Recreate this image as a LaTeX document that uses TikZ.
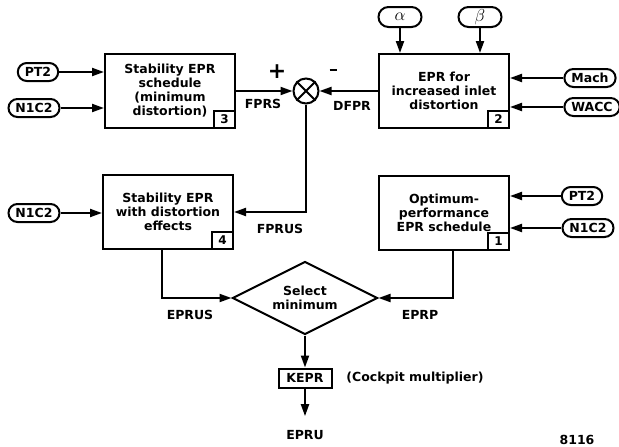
\documentclass[tikz,border=0pt]{standalone}
\usepackage{fontspec}
\setmainfont{DejaVu Sans}
\usepackage{tikz}
\usetikzlibrary{arrows.meta,calc,positioning,shapes.geometric}
\tikzset{
  every node/.append style={font=\bfseries\fontsize{12.5}{14}\selectfont},
  block/.style={draw,line width=2pt,minimum width=130pt,minimum height=74pt,align=center,inner sep=2pt},
  oval/.style={draw,line width=2pt,rounded corners=9pt,minimum height=18pt,inner xsep=7pt,inner ysep=0pt},
  angleoval/.style={oval,minimum width=43pt,minimum height=20pt,rounded corners=10pt,
    font=\fontsize{17}{17}\selectfont},
  numbox/.style={draw,line width=2pt,anchor=south east,minimum width=21pt,minimum height=17pt,inner sep=0pt,
    font=\bfseries\fontsize{12}{12}\selectfont},
  sig/.style={line width=2pt,-{Triangle[length=12pt,width=8pt]}},
  lbl/.style={inner sep=0pt}
}

\begin{document}
\begin{tikzpicture}[x=1pt,y=-1pt]
  \useasboundingbox (0,0) rectangle (619,447);
  % blocks
  \node[block] (stab) at (170,91) {Stability EPR\\schedule\\(minimum\\distortion)};
  \node[numbox] (stabN) at (stab.south east) {3};
  \node[block] (dist) at (444,91) {EPR for\\increased inlet\\distortion};
  \node[numbox] (distN) at (dist.south east) {2};
  \node[block] (stabd) at (168,212) {Stability EPR\\with distortion\\effects};
  \node[numbox] (stabdN) at (stabd.south east) {4};
  \node[block] (optim) at (444,213) {Optimum-\\performance\\EPR schedule};
  \node[numbox] (optimN) at (optim.south east) {1};
  \node[draw,diamond,aspect=2,line width=2pt,minimum width=145pt,minimum height=73pt,
    inner sep=0pt,align=center] (sel) at (305,298) {Select\\minimum};
  \node[draw,line width=2pt,minimum width=53pt,minimum height=19pt,inner sep=0pt] (kepr) at (305,378) {KEPR};
  % summing junction
  \node[circle,draw,line width=2pt,minimum size=25pt,inner sep=0pt] (sum) at (306,91) {};
  \draw[line width=2pt] (sum.north west) -- (sum.south east) (sum.north east) -- (sum.south west);
  % inputs
  \node[oval] (pt2a) at (38,72) {PT2};
  \node[oval] (n1c2a) at (34,108) {N1C2};
  \node[oval] (n1c2b) at (34,213) {N1C2};
  \node[angleoval] (alpha) at (400,17) {$\alpha$};
  \node[angleoval] (beta) at (480,17) {$\beta$};
  \node[oval] (mach) at (590,78) {Mach};
  \node[oval] (wacc) at (592,107) {WACC};
  \node[oval] (pt2c) at (582,196) {PT2};
  \node[oval] (n1c2d) at (588,228) {N1C2};
  % labels
  \node[lbl,font=\bfseries\fontsize{22}{22}\selectfont] (plus) at (277,72) {+};
  \node[lbl] (minus) at (333,70) {\rule{7pt}{2.2pt}};
  \node[lbl] (fprs) at (263,104) {FPRS};
  \node[lbl] (dfpr) at (352,106) {DFPR};
  \node[lbl] (fprus) at (280,229) {FPRUS};
  \node[lbl] (eprus) at (190,315) {EPRUS};
  \node[lbl] (eprp) at (420,315) {EPRP};
  \node[lbl] (cockpit) at (415,378) {(Cockpit multiplier)};
  \node[lbl] (epru) at (305,435) {EPRU};
  \node[lbl] (fig) at (577,440) {8116};
  % connectors
  \draw[sig] (pt2a) -- (pt2a -| stab.west);
  \draw[sig] (n1c2a) -- (n1c2a -| stab.west);
  \draw[sig] (stab.east) -- (sum.west);
  \draw[sig] (dist.west) -- (sum.east);
  \draw[sig] (alpha) -- (alpha |- dist.north);
  \draw[sig] (beta) -- (beta |- dist.north);
  \draw[sig] (mach) -- (mach -| dist.east);
  \draw[sig] (wacc) -- (wacc -| dist.east);
  \draw[sig] (sum.south) |- (stabd.east);
  \draw[sig] (n1c2b) -- (n1c2b -| stabd.west);
  \draw[sig] (pt2c) -- (pt2c -| optim.east);
  \draw[sig] (n1c2d) -- (n1c2d -| optim.east);
  \draw[sig] ([xshift=-6pt]stabd.south) |- (sel.west);
  \draw[sig] ([xshift=9pt]optim.south) |- (sel.east);
  \draw[sig] (sel.south) -- (kepr.north);
  \draw[sig,shorten >=14pt] (kepr.south) -- (epru.north);
\end{tikzpicture}
\end{document}
